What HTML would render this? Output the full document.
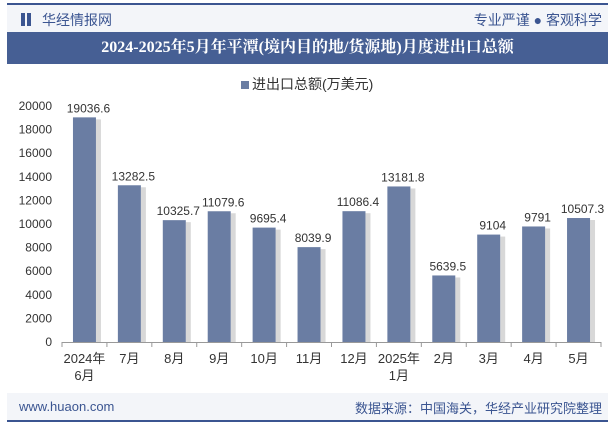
<!DOCTYPE html>
<html><head><meta charset="utf-8"><style>
body{margin:0;width:615px;height:427px;background:#fff;font-family:"Liberation Sans","Noto Sans CJK SC",sans-serif;position:relative;overflow:hidden}
.abs{position:absolute}
</style></head><body>
<div class="abs" style="left:7px;top:3px;width:601px;height:2px;background:#3b5591"></div>
<div class="abs" style="left:7px;top:5px;width:601px;height:27px;background:#f3f5f9"></div>
<div class="abs" style="left:21px;top:13px;width:4px;height:13px;background:#3b5591"></div>
<div class="abs" style="left:27px;top:13px;width:4px;height:13px;background:#3b5591"></div>
<div class="abs" style="left:42px;top:10px;font-size:14px;color:#3b5591">华经情报网</div>
<div class="abs" style="right:13px;top:10px;font-size:14px;color:#3b5591">专业严谨 ● 客观科学</div>
<div class="abs" style="left:7px;top:32px;width:601px;height:32px;background:#465f94;color:#fff;font-family:'Liberation Serif','Noto Serif CJK SC',serif;font-weight:bold;font-size:16px;line-height:32px;text-align:center">2024-2025年5月年平潭(境内目的地/货源地)月度进出口总额</div>
<div class="abs" style="left:241px;top:74px;font-size:14px;color:#333"><span style="display:inline-block;width:8px;height:8px;background:#6a7da3;margin-right:3px"></span>进出口总额(万美元)</div>
<svg class="abs" style="left:0;top:0" width="615" height="427" id="chart"></svg>
<div class="abs" style="left:7px;top:393px;width:601px;height:27px;background:#f3f5f9"></div>
<div class="abs" style="left:7px;top:420px;width:601px;height:2px;background:#3b5591"></div>
<div class="abs" style="left:19px;top:399px;font-size:13px;color:#3b5591">www.huaon.com</div>
<div class="abs" style="right:13px;top:398px;font-size:13px;color:#3b5591">数据来源：中国海关，华经产业研究院整理</div>
<script>
const categories=["2024年|6月","7月","8月","9月","10月","11月","12月","2025年|1月","2月","3月","4月","5月"];
const values=[19036.6,13282.5,10325.7,11079.6,9695.4,8039.9,11086.4,13181.8,5639.5,9104,9791,10507.3];
const labels=["19036.6","13282.5","10325.7","11079.6","9695.4","8039.9","11086.4","13181.8","5639.5","9104","9791","10507.3"];
const yTicks=[0,2000,4000,6000,8000,10000,12000,14000,16000,18000,20000];
const svg=document.getElementById('chart');const NS='http://www.w3.org/2000/svg';
const x0=62,x1=601,y0=342,yTop=106,yMax=20000;
const bw=(x1-x0)/categories.length;
const Y=v=>y0-(v/yMax)*(y0-yTop);
const X=i=>x0+bw*(i+0.5);
function mk(t,a){const e=document.createElementNS(NS,t);for(const k in a)e.setAttribute(k,a[k]);svg.appendChild(e);return e;}
yTicks.forEach(v=>{const t=mk('text',{x:x0-10,y:Y(v)+4,'text-anchor':'end','font-size':12,fill:'#333'});t.textContent=v;

});
const ax=mk('line',{x1:x0,x2:x1,y1:y0+0.5,y2:y0+0.5,stroke:'#999'});


for(let i=0;i<=categories.length;i++){const tk=mk('line',{x1:x0+bw*i,x2:x0+bw*i,y1:y0,y2:y0+5,stroke:'#999'});

}
values.forEach((v,i)=>{const cx=X(i),w=23;
const sh=mk('rect',{x:cx+w/2,y:Y(v)+2,width:5,height:y0-Y(v)-2,fill:'#d8d8d8'});


const r=mk('rect',{x:cx-w/2,y:Y(v),width:w,height:y0-Y(v),fill:'#6a7da3'});


const t=mk('text',{x:cx+4,y:Y(v)-5,'text-anchor':'middle','font-size':12,fill:'#333'});t.textContent=labels[i];


categories[i].split('|').forEach((s,j)=>{const c=mk('text',{x:cx,y:y0+21+j*17,'text-anchor':'middle','font-size':13,fill:'#333'});c.textContent=s;

});});
</script>
</body></html>
